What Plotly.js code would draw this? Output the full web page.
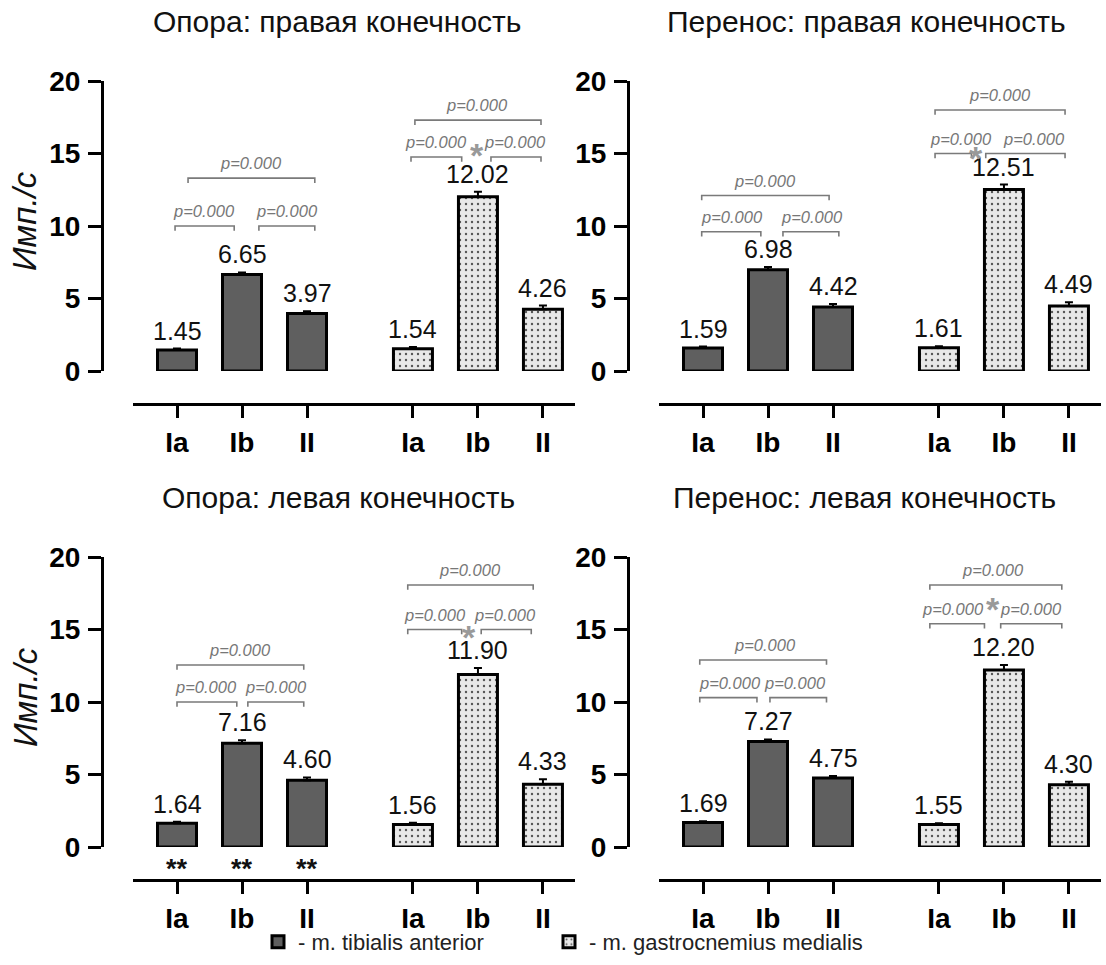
<!DOCTYPE html>
<html>
<head>
<meta charset="utf-8">
<script src="https://cdn.plot.ly/plotly-3.0.1.min.js"></script>
<style>html,body{margin:0;padding:0;background:#fff;}#chart{width:1106px;height:965px;}</style>
</head>
<body>
<div id="chart"></div>
<script>
// ---- data ----
const categories = ['Ia', 'Ib', 'II'];
const panelTitles = ['Опора: правая конечность', 'Перенос: правая конечность', 'Опора: левая конечность', 'Перенос: левая конечность'];
const muscleNames = ['- m. tibialis anterior', '- m. gastrocnemius medialis'];
const yTitle = 'Имп./с';
const pLabel = 'p=0.000';

const tibRightSupport = [1.45, 6.65, 3.97];
const gasRightSupport = [1.54, 12.02, 4.26];
const tibRightSwing = [1.59, 6.98, 4.42];
const gasRightSwing = [1.61, 12.51, 4.49];
const tibLeftSupport = [1.64, 7.16, 4.60];
const gasLeftSupport = [1.56, 11.90, 4.33];
const tibLeftSwing = [1.69, 7.27, 4.75];
const gasLeftSwing = [1.55, 12.20, 4.30];

const tibRightSupportErr = [0.10, 0.15, 0.15];
const gasRightSupportErr = [0.12, 0.35, 0.25];
const tibRightSwingErr = [0.10, 0.20, 0.20];
const gasRightSwingErr = [0.10, 0.35, 0.25];
const tibLeftSupportErr = [0.10, 0.20, 0.20];
const gasLeftSupportErr = [0.12, 0.45, 0.35];
const tibLeftSwingErr = [0.08, 0.15, 0.15];
const gasLeftSwingErr = [0.08, 0.35, 0.20];

const leftSupportMarks = ['**', '**', '**'];

// ---- layout helpers ----
const W = 1106, H = 965;
const fx = px => px / W;
const fy = py => 1 - py / H;
const pxPerUnit = 65;
const gasOffset = 3.63;

const panels = [
  {tib: tibRightSupport, gas: gasRightSupport, tibE: tibRightSupportErr, gasE: gasRightSupportErr,
   yAxisX: 102, xStart: 133, xEnd: 575, firstCenter: 177, yTop: 81, yBot: 371, xLine: 404, titleX: 337, titleY: 21, yTitle: true,
   tibBr: [[-0.03, 0.88, 10.0, 0.42], [1.26, 2.12, 10.0, 1.69], [0.17, 2.12, 13.3, 1.14]],
   gasBr: [[-0.03, 0.75, 14.76, 0.35], [1.2, 1.97, 14.76, 1.57], [0.03, 1.97, 17.3, 0.98]], star: [0.98, 15.4]},
  {tib: tibRightSwing, gas: gasRightSwing, tibE: tibRightSwingErr, gasE: gasRightSwingErr,
   yAxisX: 628, xStart: 659, xEnd: 1101, firstCenter: 703, yTop: 81, yBot: 371, xLine: 404, titleX: 866, titleY: 21, yTitle: false,
   tibBr: [[-0.02, 0.89, 9.6, 0.45], [1.23, 2.09, 9.6, 1.68], [-0.02, 1.94, 12.1, 0.95]],
   gasBr: [[-0.06, 0.5, 15.0, 0.34], [0.72, 1.94, 15.0, 1.46], [-0.06, 1.94, 18.0, 0.94]], star: [0.57, 15.2]},
  {tib: tibLeftSupport, gas: gasLeftSupport, tibE: tibLeftSupportErr, gasE: gasLeftSupportErr,
   yAxisX: 102, xStart: 133, xEnd: 575, firstCenter: 177, yTop: 557, yBot: 847, xLine: 880, titleX: 338, titleY: 497, yTitle: true,
   tibBr: [[0, 0.92, 10.0, 0.45], [1.09, 1.95, 10.0, 1.52], [0, 1.95, 12.55, 0.97]],
   gasBr: [[-0.08, 0.75, 15.0, 0.34], [1.05, 1.82, 15.0, 1.42], [-0.08, 1.85, 18.07, 0.88]], star: [0.86, 15.0], marks: leftSupportMarks},
  {tib: tibLeftSwing, gas: gasLeftSwing, tibE: tibLeftSwingErr, gasE: gasLeftSwingErr,
   yAxisX: 628, xStart: 659, xEnd: 1101, firstCenter: 703, yTop: 557, yBot: 847, xLine: 880, titleX: 864, titleY: 497, yTitle: false,
   tibBr: [[-0.05, 0.83, 10.3, 0.42], [1.03, 1.9, 10.3, 1.42], [-0.05, 1.9, 12.9, 0.95]],
   gasBr: [[-0.14, 0.7, 15.4, 0.22], [0.95, 1.89, 15.4, 1.42], [-0.14, 1.89, 18.07, 0.83]], star: [0.83, 16.9]}
];

const FONT = 'Liberation Sans, Arial, sans-serif';
const tibPos = categories.map((c, i) => i);
const gasPos = categories.map((c, i) => i + gasOffset);

const traces = [];
const shapes = [];
const annotations = [];
const legendBase = {orientation: 'h', yanchor: 'middle', xanchor: 'left',
  font: {family: FONT, size: 22, color: '#222'}, bgcolor: 'rgba(0,0,0,0)', itemclick: false, itemdoubleclick: false};
const layout = {
  width: W, height: H,
  margin: {l: 0, r: 0, t: 0, b: 0},
  paper_bgcolor: '#fff', plot_bgcolor: 'rgba(0,0,0,0)',
  font: {family: FONT, color: '#111'},
  showlegend: true,
  bargap: 0,
  legend: Object.assign({}, legendBase, {x: fx(258), y: fy(942)}),
  legend2: Object.assign({}, legendBase, {x: fx(549), y: fy(942)})
};

const bracketColor = '#7a7a7a';

panels.forEach((p, k) => {
  const n = k + 1;
  const xa = 'x' + (n === 1 ? '' : n), ya = 'y' + (n === 1 ? '' : n);
  const xKey = 'xaxis' + (n === 1 ? '' : n), yKey = 'yaxis' + (n === 1 ? '' : n);
  const r0 = (p.xStart - p.firstCenter) / pxPerUnit;
  const r1 = (p.xEnd - p.firstCenter) / pxPerUnit;

  layout[xKey] = {
    domain: [fx(p.xStart), fx(p.xEnd)], range: [r0, r1], anchor: 'free', position: fy(p.xLine),
    showline: true, linewidth: 3, linecolor: '#000', showgrid: false, zeroline: false,
    ticks: 'outside', ticklen: 12, tickwidth: 3, tickcolor: '#000',
    tickvals: tibPos.concat(gasPos), ticktext: categories.concat(categories),
    tickfont: {family: FONT, size: 28, weight: 'bold', color: '#000'}, fixedrange: true
  };
  layout[yKey] = {
    domain: [fy(p.yBot), fy(p.yTop)], range: [0, 20], anchor: 'free', position: fx(p.yAxisX),
    showline: true, linewidth: 3, linecolor: '#000', showgrid: false, zeroline: false,
    ticks: 'outside', ticklen: 13, tickwidth: 3, tickcolor: '#000',
    tickvals: [0, 5, 10, 15, 20], ticklabelstandoff: 2,
    tickfont: {family: FONT, size: 28, weight: 'bold', color: '#000'}, fixedrange: true
  };

  traces.push({
    type: 'bar', x: tibPos, y: p.tib, xaxis: xa, yaxis: ya, width: 0.6,
    name: muscleNames[0], showlegend: k === 0, legend: 'legend', legendgroup: 'tib',
    marker: {color: '#5f5f5f', line: {color: '#000', width: 3}},
    error_y: {type: 'data', symmetric: false, array: p.tibE, arrayminus: p.tibE.map(() => 0),
              color: '#000', thickness: 2, width: 4},
    hoverinfo: 'skip'
  });
  traces.push({
    type: 'bar', x: gasPos, y: p.gas, xaxis: xa, yaxis: ya, width: 0.6,
    name: muscleNames[1], showlegend: k === 0, legend: 'legend2', legendgroup: 'gas',
    marker: {color: '#e8e8e8', line: {color: '#000', width: 3},
             pattern: {shape: '.', fgcolor: '#555', bgcolor: '#e8e8e8', size: 6, solidity: 0.12}},
    error_y: {type: 'data', symmetric: false, array: p.gasE, arrayminus: p.gasE.map(() => 0),
              color: '#000', thickness: 2, width: 4},
    hoverinfo: 'skip'
  });

  // value labels
  [[tibPos, p.tib, p.tibE], [gasPos, p.gas, p.gasE]].forEach(([xs, vs, es]) => {
    xs.forEach((x, i) => {
      annotations.push({xref: xa, yref: ya, x: x, y: vs[i] + es[i], text: vs[i].toFixed(2),
        showarrow: false, yanchor: 'bottom', yshift: 2,
        font: {family: FONT, size: 25, color: '#111'}});
    });
  });

  // brackets
  const tick = 0.33;
  [[p.tibBr, 0], [p.gasBr, gasOffset]].forEach(([brs, off]) => {
    brs.forEach(b => {
      const x1 = b[0] + off, x2 = b[1] + off, y = b[2];
      shapes.push({type: 'path', xref: xa, yref: ya,
        path: `M${x1},${y - tick} L${x1},${y} L${x2},${y} L${x2},${y - tick}`,
        line: {color: bracketColor, width: 1.6}});
      annotations.push({xref: xa, yref: ya, x: b[3] + off, y: y, text: pLabel, showarrow: false,
        yanchor: 'bottom', yshift: 4,
        font: {family: FONT, size: 16.5, color: '#777', style: 'italic'}});
    });
  });
  annotations.push({xref: xa, yref: ya, x: p.star[0] + gasOffset, y: p.star[1], text: '*', showarrow: false,
    yanchor: 'middle', yshift: -7, font: {family: FONT, size: 34, color: '#999', weight: 'bold'}});

  if (p.marks) {
    tibPos.forEach((x, i) => {
      annotations.push({xref: xa, yref: ya, x: x, y: 0, text: p.marks[i], showarrow: false,
        yanchor: 'middle', yshift: -22, font: {family: FONT, size: 27, color: '#111', weight: 'bold'}});
    });
  }

  // panel title
  annotations.push({xref: 'paper', yref: 'paper', x: fx(p.titleX), y: fy(p.titleY), text: panelTitles[k],
    showarrow: false, xanchor: 'center', yanchor: 'middle', font: {family: FONT, size: 30, color: '#111'}});
  if (p.yTitle) {
    annotations.push({xref: 'paper', yref: 'paper', x: fx(25), y: fy((p.yTop + p.yBot) / 2 - 5), text: yTitle,
      showarrow: false, textangle: -90, xanchor: 'center', yanchor: 'middle',
      font: {family: FONT, size: 33, color: '#111', style: 'italic'}});
  }
});

layout.shapes = shapes;
layout.annotations = annotations;

Plotly.newPlot('chart', traces, layout, {displayModeBar: false, staticPlot: true});
</script>
</body>
</html>
